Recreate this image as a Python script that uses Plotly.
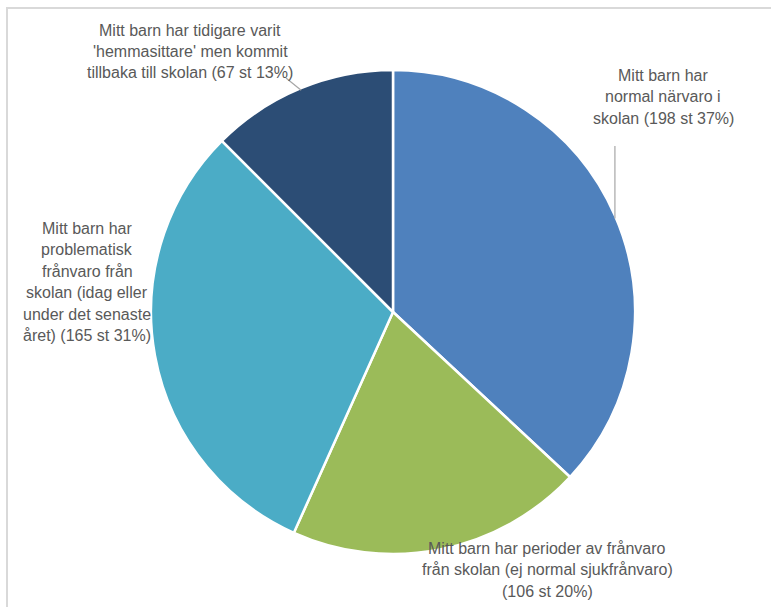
import math
import plotly.graph_objects as go

# ---- data ----
categories = [
    "Mitt barn har normal närvaro i skolan",
    "Mitt barn har perioder av frånvaro från skolan (ej normal sjukfrånvaro)",
    "Mitt barn har problematisk frånvaro från skolan (idag eller under det senaste året)",
    "Mitt barn har tidigare varit 'hemmasittare' men kommit tillbaka till skolan",
]
counts = [198, 106, 165, 67]
percent_labels = ["37%", "20%", "31%", "13%"]
label_lines = [
    ["Mitt barn har", "normal närvaro i", "skolan (198 st 37%)"],
    ["Mitt barn har perioder av frånvaro", "från skolan (ej normal sjukfrånvaro)", "(106 st 20%)"],
    ["Mitt barn har", "problematisk", "frånvaro från", "skolan (idag eller", "under det senaste", "året) (165 st 31%)"],
    ["Mitt barn har tidigare varit", "'hemmasittare' men kommit", "tillbaka till skolan (67 st 13%)"],
]
colors = ["#4F81BD", "#9BBB59", "#4BACC6", "#2C4D75"]

# ---- layout constants (pixels) ----
W, H = 771, 607
CX, CY, R = 393, 312, 242
label_centers = [(663, 75), (547, 548), (87, 228), (190, 30)]  # (x center, y of first line)
LINE_H = 21.5
TEXT_COLOR = "#595959"
FONT = "Liberation Sans, Arial, sans-serif"
FONT_SIZE = 16

def px(x):
    return x / W

def py(y):
    return 1 - y / H

fig = go.Figure()
fig.add_trace(go.Pie(
    labels=categories,
    values=counts,
    sort=False,
    direction="clockwise",
    rotation=0,
    marker=dict(colors=colors, line=dict(color="white", width=2.5)),
    textinfo="none",
    hoverinfo="label+value+percent",
    showlegend=False,
    domain=dict(x=[px(CX - R), px(CX + R)], y=[py(CY + R), py(CY - R)]),
))

annotations = []
for (cx, y0), lines in zip(label_centers, label_lines):
    for i, ln in enumerate(lines):
        annotations.append(dict(
            x=px(cx), y=py(y0 + i * LINE_H), xref="paper", yref="paper",
            text=ln, showarrow=False, xanchor="center", yanchor="middle",
            font=dict(family=FONT, size=FONT_SIZE, color=TEXT_COLOR),
        ))

# leader lines from slice mid-angles
total = sum(counts)
cum = 0
mids = []
for v in counts:
    mids.append((cum + v / 2) / total * 2 * math.pi)
    cum += v

shapes = []
# blue slice: vertical leader line up to below the label
a = mids[0]
sx, sy = CX + R * math.sin(a), CY - R * math.cos(a)
shapes.append(dict(type="line", xref="paper", yref="paper",
                   x0=px(sx), y0=py(sy + 3), x1=px(sx), y1=py(146),
                   line=dict(color="#A6A6A6", width=1.2)))
# navy slice: short leader
a = mids[3]
sx, sy = CX + (R - 2) * math.sin(a), CY - (R - 2) * math.cos(a)
shapes.append(dict(type="line", xref="paper", yref="paper",
                   x0=px(sx), y0=py(sy), x1=px(286), y1=py(78),
                   line=dict(color="#A6A6A6", width=1.2)))
# chart frame (top and left edges visible)
shapes.append(dict(type="line", xref="paper", yref="paper",
                   x0=px(6), y0=py(8), x1=1.0, y1=py(8),
                   line=dict(color="#D9D9D9", width=2)))
shapes.append(dict(type="line", xref="paper", yref="paper",
                   x0=px(7), y0=py(8), x1=px(7), y1=0.0,
                   line=dict(color="#D9D9D9", width=2)))

fig.update_layout(
    width=W, height=H,
    margin=dict(l=0, r=0, t=0, b=0),
    paper_bgcolor="white",
    plot_bgcolor="white",
    annotations=annotations,
    shapes=shapes,
)

fig.write_html("out.html", config={"displayModeBar": False},
               post_script="document.body.style.margin='0px';")
